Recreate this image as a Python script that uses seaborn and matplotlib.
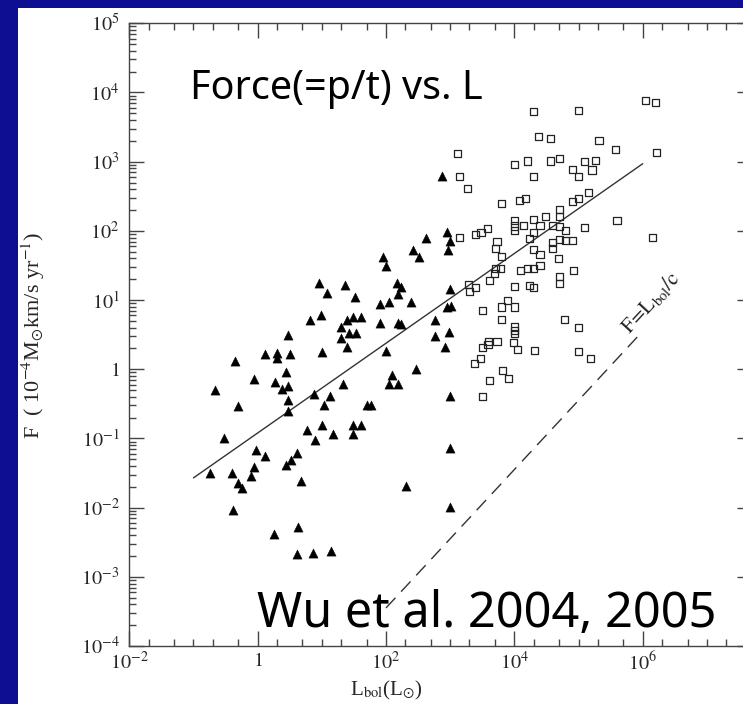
import numpy as np
import pandas as pd
import matplotlib
matplotlib.use("Agg")
import matplotlib.pyplot as plt
import seaborn as sns
from matplotlib.patches import Rectangle
from matplotlib.ticker import FixedLocator, NullFormatter, LogLocator

# ---- data: log10 L_bol (L_sun) and log10 F (1e-4 M_sun km/s / yr) ----
# low-luminosity outflows (filled triangles)
tri_logL = [-0.75, -0.66, -0.52, -0.40, -0.39, -0.36, -0.31, -0.31, -0.24, -0.10,
            -0.06, -0.05, -0.03, 0.11, 0.11, 0.25, 0.27, 0.30, 0.30, 0.38,
            0.44, 0.44, 0.48, 0.48, 0.48, 0.48, 0.51, 0.52, 0.61, 0.62,
            0.63, 0.67, 0.77, 0.81, 0.87, 0.88, 0.90, 0.96, 0.98, 1.00,
            1.00, 1.04, 1.08, 1.12, 1.14, 1.17, 1.30, 1.30, 1.33, 1.36,
            1.40, 1.40, 1.43, 1.48, 1.48, 1.48, 1.52, 1.54, 1.61, 1.61,
            1.70, 1.76, 1.90, 1.90, 1.95, 2.00, 2.00, 2.04, 2.04, 2.10,
            2.17, 2.18, 2.18, 2.18, 2.24, 2.24, 2.31, 2.39, 2.42, 2.46,
            2.51, 2.63, 2.77, 2.77, 2.88, 2.92, 2.95, 2.95, 2.96, 2.99,
            2.98, 3.00, 3.00, 3.00, 2.99, 3.01]
tri_logF = [-1.50, -0.30, -0.99, -1.50, -2.03, 0.12, -0.53, -1.65, -1.71, -1.54,
            -1.41, -0.14, -1.17, 0.22, -1.25, -2.38, -0.19, 0.23, 0.16, -0.29,
            -0.04, -1.39, 0.49, -0.44, -0.24, -0.60, 0.22, -1.31, -1.21, -2.67,
            -2.28, -1.61, -0.88, 0.71, -2.66, -0.36, -1.02, 1.24, 0.79, 0.25,
            -0.81, -0.51, 1.10, -0.39, -2.63, -0.94, 0.61, 0.45, -0.21, 1.22,
            0.71, 0.32, 0.53, 0.76, -0.81, -0.94, 1.05, 0.53, 0.76, -0.81,
            -0.51, -0.51, 0.94, 0.67, 1.62, 1.49, 0.27, 0.97, -0.22, -0.08,
            1.25, 1.09, 0.67, -0.22, 1.19, 0.65, -1.69, 0.97, 1.72, 0.01,
            1.62, 1.89, 0.71, 0.48, 2.79, 0.32, 0.90, 1.98, 1.73, 1.16,
            0.54, 1.86, -0.39, -1.14, -1.99, 0.91]

# high-luminosity outflows (open squares)
sq_logL = [3.11, 3.14, 3.27, 3.14, 3.40, 3.48, 3.58, 3.73, 3.70, 3.80,
           3.70, 3.78, 3.69, 3.62, 3.28, 3.30, 3.40, 3.80, 4.08, 4.17,
           4.30, 5.00, 6.04, 6.20, 4.38, 4.56, 5.32, 5.58, 6.22, 4.00,
           4.20, 4.56, 4.70, 5.10, 5.26, 4.90, 5.00, 5.21, 4.30, 4.90,
           5.00, 5.15, 4.70, 4.70, 4.48, 4.30, 4.00, 4.00, 4.00, 4.15,
           4.40, 4.59, 4.70, 4.80, 5.10, 5.60, 6.15, 4.30, 4.24, 4.60,
           4.59, 4.70, 4.80, 4.90, 4.30, 4.40, 4.69, 4.92, 4.40, 4.30,
           4.20, 4.10, 4.70, 4.70, 4.00, 4.23, 4.30, 3.90, 3.80, 4.00,
           3.51, 3.80, 4.78, 5.00, 4.00, 4.00, 4.00, 3.98, 4.05, 4.31,
           3.73, 3.60, 3.59, 3.50, 3.47, 3.38, 5.00, 5.18, 3.81, 3.91,
           3.62, 3.50]
sq_logF = [3.12, 2.78, 2.61, 1.90, 1.95, 1.98, 2.04, 1.84, 1.74, 1.63,
           1.46, 1.45, 1.38, 1.28, 1.23, 1.12, 1.18, 2.40, 2.44, 2.47,
           3.73, 3.74, 3.88, 3.86, 3.37, 3.33, 3.30, 3.18, 3.13, 2.96,
           3.01, 3.01, 3.05, 3.00, 3.02, 2.89, 2.79, 2.88, 2.78, 2.42,
           2.47, 2.55, 2.31, 2.21, 2.21, 2.17, 2.15, 2.07, 2.01, 2.08,
           2.08, 2.08, 2.06, 2.00, 2.05, 2.15, 1.91, 1.98, 1.89, 1.83,
           1.75, 1.88, 1.86, 1.86, 1.73, 1.66, 1.60, 1.43, 1.50, 1.45,
           1.46, 1.43, 1.34, 1.24, 1.19, 1.21, 1.18, 1.00, 0.90, 0.90,
           0.85, 0.72, 0.72, 0.60, 0.61, 0.56, 0.51, 0.39, 0.28, 0.27,
           0.40, 0.40, 0.36, 0.31, 0.16, 0.08, 0.25, 0.15, -0.02, -0.14,
           -0.16, -0.40]

# least-squares fit and the radiation-pressure limit F = L_bol / c
fit_logL = [-1.0, 6.0]
fit_logF = [-1.57, 2.97]
rad_logL = [2.0, 5.92]
rad_logF = [-3.45, 0.47]

x_major = [1e-2, 1e0, 1e2, 1e4, 1e6]
x_labels = ["$10^{-2}$", "$1$", "$10^{2}$", "$10^{4}$", "$10^{6}$"]
y_major = [1e-4, 1e-3, 1e-2, 1e-1, 1e0, 1e1, 1e2, 1e3, 1e4, 1e5]
y_labels = ["$10^{-4}$", "$10^{-3}$", "$10^{-2}$", "$10^{-1}$", "$1$",
            "$10^{1}$", "$10^{2}$", "$10^{3}$", "$10^{4}$", "$10^{5}$"]

tri = pd.DataFrame({"L": np.power(10.0, tri_logL), "F": np.power(10.0, tri_logF)})
sq = pd.DataFrame({"L": np.power(10.0, sq_logL), "F": np.power(10.0, sq_logF)})
fit = pd.DataFrame({"L": np.power(10.0, fit_logL), "F": np.power(10.0, fit_logF)})
rad = pd.DataFrame({"L": np.power(10.0, rad_logL), "F": np.power(10.0, rad_logF)})

sns.set_style("ticks")
plt.rcParams["font.family"] = ["Liberation Serif", "DejaVu Serif"]
plt.rcParams["mathtext.fontset"] = "stix"

W, H = 743, 704
BLUE = "#0e0e92"
fig = plt.figure(figsize=(W / 100, H / 100), dpi=100, facecolor=BLUE)
fig.patches.append(Rectangle((17.5 / W, 0), 1, (H - 7.5) / H, transform=fig.transFigure,
                             facecolor="white", edgecolor="none", zorder=-1))

# axes box: the right edge runs just past the slide border
ax = fig.add_axes([129.3 / W, 58 / H, 622.4 / W, 622.7 / H])
ax.set_facecolor("none")
ax.set_xscale("log")
ax.set_yscale("log")
ax.set_xlim(1e-2, 5e7)
ax.set_ylim(1e-4, 1e5)

sns.lineplot(data=fit, x="L", y="F", color="#333333", linewidth=1.0, ax=ax, zorder=2)
sns.lineplot(data=rad, x="L", y="F", color="#333333", linewidth=1.0,
             linestyle=(0, (10, 6)), ax=ax, zorder=2)
sns.scatterplot(data=tri, x="L", y="F", marker="^", s=44, color="black",
                edgecolor="black", linewidth=0.3, ax=ax, zorder=3)
sns.scatterplot(data=sq, x="L", y="F", marker="s", s=26, facecolors="none",
                edgecolor="#222222", linewidth=0.9, ax=ax, zorder=3)

ax.set_xticks(x_major)
ax.set_xticklabels(x_labels)
x_minor = [m * 10.0 ** d for d in range(-2, 8) for m in (2, 5)] + [10.0 ** d for d in (-1, 1, 3, 5, 7)]
ax.xaxis.set_minor_locator(FixedLocator(x_minor))
ax.xaxis.set_minor_formatter(NullFormatter())
ax.set_yticks(y_major)
ax.set_yticklabels(y_labels)
ax.yaxis.set_minor_locator(LogLocator(base=10, subs=np.arange(2, 10) * 1.0, numticks=100))
ax.yaxis.set_minor_formatter(NullFormatter())
ax.set_xlim(1e-2, 5e7)
ax.set_ylim(1e-4, 1e5)

ax.tick_params(which="both", direction="in", top=True, right=True, color="#444444", width=1.0)
ax.tick_params(which="major", length=10.5)
ax.tick_params(which="minor", length=5)
ax.tick_params(axis="y", labelsize=14.5, pad=7)
ax.tick_params(axis="x", labelsize=14.5, pad=4)
for sp in ax.spines.values():
    sp.set_color("#444444")
    sp.set_linewidth(1.0)
ax.set_xlabel("")
ax.set_ylabel("")

ax.text(10 ** 6.13, 10 ** 0.97, r"$\mathrm{F\!=\!L_{bol}/c}$", rotation=47.2,
        rotation_mode="anchor", ha="center", va="center", fontsize=15, color="#222222")

fig.text(386 / W, 1 - 690 / H, r"L$_{\rm bol}$(L$_{\odot}$)", ha="center", va="center", fontsize=15)
fig.text(33 / W, 1 - 335 / H, r"F  ( 10$^{-4}$M$_{\odot}$km/s yr$^{-1}$)", rotation=90,
         ha="center", va="center", fontsize=16)

fig.text(190 / W, 1 - 99.3 / H, "Force(=p/t) vs. L", family="Noto Sans", fontsize=28.5,
         ha="left", va="baseline", color="black")
fig.text(257 / W, 1 - 627 / H, "Wu et al. 2004, 2005", family="Noto Sans", fontsize=35,
         ha="left", va="baseline", color="black")

fig.savefig("out.png", dpi=100, facecolor=BLUE)
